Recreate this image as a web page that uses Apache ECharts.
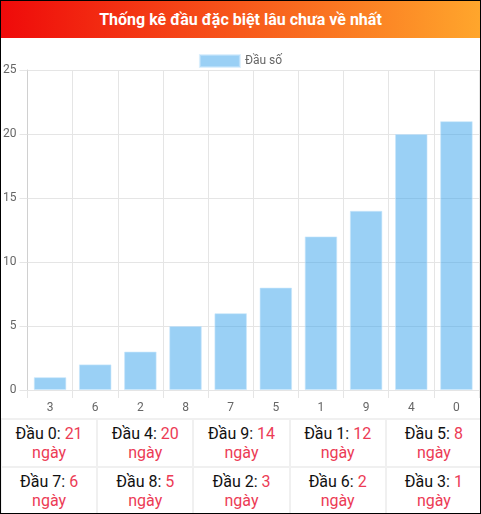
<!DOCTYPE html>
<html>
<head>
<meta charset="utf-8">
<script src="https://cdn.jsdelivr.net/npm/echarts@6/dist/echarts.min.js"></script>
<style>
body{margin:0;font-family:Roboto,"Noto Sans",Arial,sans-serif;}
#box{position:relative;width:481px;height:514px;box-sizing:border-box;border:1px solid #000;overflow:hidden;background:#fff;}
#head{position:absolute;left:0;top:0;width:100%;height:37px;background:linear-gradient(to right,#ef0a0a,#ffa62c);color:#fff;font-weight:bold;font-size:16px;text-align:center;line-height:37px;}
#chart{position:absolute;left:-1px;top:37px;width:481px;height:380px;}
#tbl{position:absolute;left:-1px;top:417px;width:483px;border-collapse:collapse;}
#tbl td{border:2px solid #f0f0f0;width:96px;height:46px;text-align:center;font-size:16px;line-height:19px;color:#111;padding:0;}
#tbl span{color:#ec3b55;}
</style>
</head>
<body>
<div id="box">
  <div id="head">Thống kê đầu đặc biệt lâu chưa về nhất</div>
  <div id="chart"></div>
  <table id="tbl"></table>
</div>
<script>
// du lieu
var dauSo = ['3','6','2','8','7','5','1','9','4','0'];
var soNgay = [1,2,3,5,6,8,12,14,20,21];
var yTicks = [0,5,10,15,20,25];

var chart = echarts.init(document.getElementById('chart'));
var option = {
    animation:false,
    legend:{
        data:['Đầu số'],
        top:11,
        left:'center',
        icon:'rect',
        itemWidth:40,
        itemHeight:12,
        itemGap:6,
        selectedMode:false,
        textStyle:{color:'#666',fontSize:12,fontFamily:'Roboto'}
    },
    grid:{left:26,right:2,top:32,bottom:28,containLabel:false},
    xAxis:[{
        type:'category',
        data:dauSo,
        boundaryGap:true,
        axisLine:{lineStyle:{color:'#e5e5e5'}},
        axisTick:{show:true,length:8,lineStyle:{color:'#e5e5e5'}},
        axisLabel:{color:'#666',fontSize:12,margin:12,fontFamily:'Roboto'},
        splitLine:{show:true,lineStyle:{color:'#e5e5e5'}}
    }],
    yAxis:[{
        type:'value',
        min:yTicks[0],
        max:yTicks[yTicks.length-1],
        interval:yTicks[1]-yTicks[0],
        axisLine:{show:true,lineStyle:{color:'#d0d0d0'}},
        axisTick:{show:true,length:8,lineStyle:{color:'#e5e5e5'}},
        axisLabel:{color:'#666',fontSize:12,margin:11,fontFamily:'Roboto'},
        splitLine:{show:true,lineStyle:{color:'#e5e5e5'}}
    }],
    series:[{
        name:'Đầu số',
        type:'bar',
        data:soNgay,
        barWidth:'72%',
        itemStyle:{color:'rgba(54,162,235,0.5)',borderColor:'rgba(200,230,252,0.6)',borderWidth:1}
    }]
};
chart.setOption(option);

// bang ben duoi: xep theo so ngay giam dan
var html = '';
var n = dauSo.length;
for (var r = 0; r < 2; r++) {
    html += '<tr>';
    for (var c = 0; c < 5; c++) {
        var i = n - 1 - (r*5 + c);
        html += '<td>Đầu ' + dauSo[i] + ': <span>' + soNgay[i] + '</span><br><span>ngày</span></td>';
    }
    html += '</tr>';
}
document.getElementById('tbl').innerHTML = html;
</script>
</body>
</html>
